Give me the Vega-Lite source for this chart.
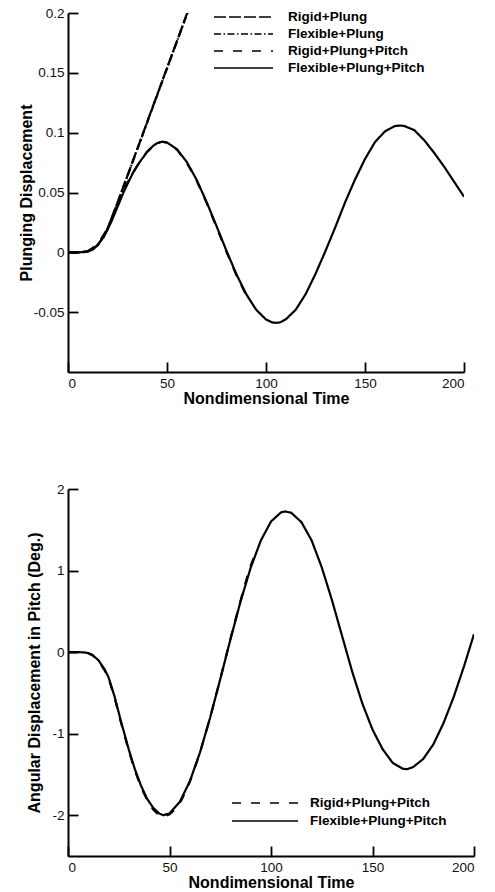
{
  "$schema": "https://vega.github.io/schema/vega-lite/v6.json",
  "padding": {"left": 18, "top": 3, "right": 5, "bottom": 5},
  "datasets": {
    "plunge": [
      {"case": "Flexible+Plung+Pitch", "t": 0, "v": 0},
      {"case": "Flexible+Plung+Pitch", "t": 5, "v": 0},
      {"case": "Flexible+Plung+Pitch", "t": 8, "v": 0.0002},
      {"case": "Flexible+Plung+Pitch", "t": 10, "v": 0.0008},
      {"case": "Flexible+Plung+Pitch", "t": 12, "v": 0.002},
      {"case": "Flexible+Plung+Pitch", "t": 15, "v": 0.006},
      {"case": "Flexible+Plung+Pitch", "t": 18, "v": 0.013},
      {"case": "Flexible+Plung+Pitch", "t": 20, "v": 0.019},
      {"case": "Flexible+Plung+Pitch", "t": 22, "v": 0.026},
      {"case": "Flexible+Plung+Pitch", "t": 25, "v": 0.038},
      {"case": "Flexible+Plung+Pitch", "t": 28, "v": 0.05},
      {"case": "Flexible+Plung+Pitch", "t": 30, "v": 0.057},
      {"case": "Flexible+Plung+Pitch", "t": 33, "v": 0.067},
      {"case": "Flexible+Plung+Pitch", "t": 36, "v": 0.075},
      {"case": "Flexible+Plung+Pitch", "t": 40, "v": 0.084},
      {"case": "Flexible+Plung+Pitch", "t": 43, "v": 0.089},
      {"case": "Flexible+Plung+Pitch", "t": 45, "v": 0.0912},
      {"case": "Flexible+Plung+Pitch", "t": 47.5, "v": 0.0925},
      {"case": "Flexible+Plung+Pitch", "t": 50, "v": 0.0918},
      {"case": "Flexible+Plung+Pitch", "t": 55, "v": 0.0862},
      {"case": "Flexible+Plung+Pitch", "t": 60, "v": 0.0755},
      {"case": "Flexible+Plung+Pitch", "t": 65, "v": 0.0605},
      {"case": "Flexible+Plung+Pitch", "t": 70, "v": 0.0421},
      {"case": "Flexible+Plung+Pitch", "t": 75, "v": 0.022},
      {"case": "Flexible+Plung+Pitch", "t": 80, "v": 0.0014},
      {"case": "Flexible+Plung+Pitch", "t": 85, "v": -0.0181},
      {"case": "Flexible+Plung+Pitch", "t": 90, "v": -0.0349},
      {"case": "Flexible+Plung+Pitch", "t": 95, "v": -0.0479},
      {"case": "Flexible+Plung+Pitch", "t": 100, "v": -0.0561},
      {"case": "Flexible+Plung+Pitch", "t": 103, "v": -0.0585},
      {"case": "Flexible+Plung+Pitch", "t": 105, "v": -0.0589},
      {"case": "Flexible+Plung+Pitch", "t": 107, "v": -0.0586},
      {"case": "Flexible+Plung+Pitch", "t": 110, "v": -0.056},
      {"case": "Flexible+Plung+Pitch", "t": 115, "v": -0.048},
      {"case": "Flexible+Plung+Pitch", "t": 120, "v": -0.035},
      {"case": "Flexible+Plung+Pitch", "t": 125, "v": -0.018},
      {"case": "Flexible+Plung+Pitch", "t": 130, "v": 0.001},
      {"case": "Flexible+Plung+Pitch", "t": 135, "v": 0.021},
      {"case": "Flexible+Plung+Pitch", "t": 140, "v": 0.042},
      {"case": "Flexible+Plung+Pitch", "t": 145, "v": 0.061},
      {"case": "Flexible+Plung+Pitch", "t": 150, "v": 0.078},
      {"case": "Flexible+Plung+Pitch", "t": 155, "v": 0.092},
      {"case": "Flexible+Plung+Pitch", "t": 160, "v": 0.101},
      {"case": "Flexible+Plung+Pitch", "t": 165, "v": 0.1055},
      {"case": "Flexible+Plung+Pitch", "t": 168, "v": 0.106},
      {"case": "Flexible+Plung+Pitch", "t": 170, "v": 0.1055},
      {"case": "Flexible+Plung+Pitch", "t": 175, "v": 0.102},
      {"case": "Flexible+Plung+Pitch", "t": 180, "v": 0.0935},
      {"case": "Flexible+Plung+Pitch", "t": 185, "v": 0.083},
      {"case": "Flexible+Plung+Pitch", "t": 190, "v": 0.0715},
      {"case": "Flexible+Plung+Pitch", "t": 195, "v": 0.059},
      {"case": "Flexible+Plung+Pitch", "t": 200, "v": 0.0465},

      {"case": "Rigid+Plung+Pitch", "t": 0, "v": 0},
      {"case": "Rigid+Plung+Pitch", "t": 5, "v": 0},
      {"case": "Rigid+Plung+Pitch", "t": 10, "v": 0.0009},
      {"case": "Rigid+Plung+Pitch", "t": 15, "v": 0.0065},
      {"case": "Rigid+Plung+Pitch", "t": 20, "v": 0.02},
      {"case": "Rigid+Plung+Pitch", "t": 25, "v": 0.039},
      {"case": "Rigid+Plung+Pitch", "t": 30, "v": 0.058},
      {"case": "Rigid+Plung+Pitch", "t": 35, "v": 0.0725},
      {"case": "Rigid+Plung+Pitch", "t": 40, "v": 0.0842},
      {"case": "Rigid+Plung+Pitch", "t": 45, "v": 0.0913},
      {"case": "Rigid+Plung+Pitch", "t": 47.5, "v": 0.0924},
      {"case": "Rigid+Plung+Pitch", "t": 50, "v": 0.0916},
      {"case": "Rigid+Plung+Pitch", "t": 55, "v": 0.0858},
      {"case": "Rigid+Plung+Pitch", "t": 60, "v": 0.0749},
      {"case": "Rigid+Plung+Pitch", "t": 65, "v": 0.0598},
      {"case": "Rigid+Plung+Pitch", "t": 70, "v": 0.0413},
      {"case": "Rigid+Plung+Pitch", "t": 75, "v": 0.0212},
      {"case": "Rigid+Plung+Pitch", "t": 80, "v": 0.0006},
      {"case": "Rigid+Plung+Pitch", "t": 85, "v": -0.0189},
      {"case": "Rigid+Plung+Pitch", "t": 90, "v": -0.0356},
      {"case": "Rigid+Plung+Pitch", "t": 92, "v": -0.041},

      {"case": "Rigid+Plung", "t": 0, "v": 0},
      {"case": "Rigid+Plung", "t": 5, "v": 0},
      {"case": "Rigid+Plung", "t": 10, "v": 0.0008},
      {"case": "Rigid+Plung", "t": 13, "v": 0.003},
      {"case": "Rigid+Plung", "t": 15, "v": 0.0062},
      {"case": "Rigid+Plung", "t": 18, "v": 0.013},
      {"case": "Rigid+Plung", "t": 20, "v": 0.02},
      {"case": "Rigid+Plung", "t": 22, "v": 0.0285},
      {"case": "Rigid+Plung", "t": 25, "v": 0.0415},
      {"case": "Rigid+Plung", "t": 30, "v": 0.064},
      {"case": "Rigid+Plung", "t": 35, "v": 0.0865},
      {"case": "Rigid+Plung", "t": 40, "v": 0.109},
      {"case": "Rigid+Plung", "t": 45, "v": 0.1315},
      {"case": "Rigid+Plung", "t": 50, "v": 0.154},
      {"case": "Rigid+Plung", "t": 55, "v": 0.1765},
      {"case": "Rigid+Plung", "t": 60, "v": 0.199},
      {"case": "Rigid+Plung", "t": 62, "v": 0.208},

      {"case": "Flexible+Plung", "t": 0, "v": 0},
      {"case": "Flexible+Plung", "t": 5, "v": 0},
      {"case": "Flexible+Plung", "t": 10, "v": 0.0008},
      {"case": "Flexible+Plung", "t": 13, "v": 0.003},
      {"case": "Flexible+Plung", "t": 15, "v": 0.0061},
      {"case": "Flexible+Plung", "t": 18, "v": 0.0129},
      {"case": "Flexible+Plung", "t": 20, "v": 0.0198},
      {"case": "Flexible+Plung", "t": 22, "v": 0.0282},
      {"case": "Flexible+Plung", "t": 25, "v": 0.0412},
      {"case": "Flexible+Plung", "t": 30, "v": 0.0636},
      {"case": "Flexible+Plung", "t": 35, "v": 0.0861},
      {"case": "Flexible+Plung", "t": 40, "v": 0.1086},
      {"case": "Flexible+Plung", "t": 45, "v": 0.1311},
      {"case": "Flexible+Plung", "t": 50, "v": 0.1536},
      {"case": "Flexible+Plung", "t": 55, "v": 0.1761},
      {"case": "Flexible+Plung", "t": 60, "v": 0.1986},
      {"case": "Flexible+Plung", "t": 62, "v": 0.2076}
    ],
    "pitch": [
      {"case": "Flexible+Plung+Pitch", "t": 0, "v": 0},
      {"case": "Flexible+Plung+Pitch", "t": 5, "v": 0},
      {"case": "Flexible+Plung+Pitch", "t": 8, "v": -0.004},
      {"case": "Flexible+Plung+Pitch", "t": 10, "v": -0.012},
      {"case": "Flexible+Plung+Pitch", "t": 12, "v": -0.035},
      {"case": "Flexible+Plung+Pitch", "t": 15, "v": -0.1},
      {"case": "Flexible+Plung+Pitch", "t": 18, "v": -0.21},
      {"case": "Flexible+Plung+Pitch", "t": 20, "v": -0.31},
      {"case": "Flexible+Plung+Pitch", "t": 23, "v": -0.55},
      {"case": "Flexible+Plung+Pitch", "t": 26, "v": -0.84},
      {"case": "Flexible+Plung+Pitch", "t": 30, "v": -1.2},
      {"case": "Flexible+Plung+Pitch", "t": 33, "v": -1.44},
      {"case": "Flexible+Plung+Pitch", "t": 36, "v": -1.64},
      {"case": "Flexible+Plung+Pitch", "t": 39, "v": -1.8},
      {"case": "Flexible+Plung+Pitch", "t": 42, "v": -1.91},
      {"case": "Flexible+Plung+Pitch", "t": 45, "v": -1.98},
      {"case": "Flexible+Plung+Pitch", "t": 47, "v": -2.0},
      {"case": "Flexible+Plung+Pitch", "t": 50, "v": -1.977},
      {"case": "Flexible+Plung+Pitch", "t": 55, "v": -1.839},
      {"case": "Flexible+Plung+Pitch", "t": 60, "v": -1.585},
      {"case": "Flexible+Plung+Pitch", "t": 65, "v": -1.232},
      {"case": "Flexible+Plung+Pitch", "t": 70, "v": -0.805},
      {"case": "Flexible+Plung+Pitch", "t": 75, "v": -0.332},
      {"case": "Flexible+Plung+Pitch", "t": 80, "v": 0.154},
      {"case": "Flexible+Plung+Pitch", "t": 85, "v": 0.62},
      {"case": "Flexible+Plung+Pitch", "t": 90, "v": 1.035},
      {"case": "Flexible+Plung+Pitch", "t": 95, "v": 1.369},
      {"case": "Flexible+Plung+Pitch", "t": 100, "v": 1.601},
      {"case": "Flexible+Plung+Pitch", "t": 105, "v": 1.715},
      {"case": "Flexible+Plung+Pitch", "t": 107, "v": 1.725},
      {"case": "Flexible+Plung+Pitch", "t": 110, "v": 1.708},
      {"case": "Flexible+Plung+Pitch", "t": 115, "v": 1.593},
      {"case": "Flexible+Plung+Pitch", "t": 120, "v": 1.37},
      {"case": "Flexible+Plung+Pitch", "t": 125, "v": 1.04},
      {"case": "Flexible+Plung+Pitch", "t": 130, "v": 0.64},
      {"case": "Flexible+Plung+Pitch", "t": 135, "v": 0.2},
      {"case": "Flexible+Plung+Pitch", "t": 140, "v": -0.24},
      {"case": "Flexible+Plung+Pitch", "t": 145, "v": -0.63},
      {"case": "Flexible+Plung+Pitch", "t": 150, "v": -0.95},
      {"case": "Flexible+Plung+Pitch", "t": 155, "v": -1.19},
      {"case": "Flexible+Plung+Pitch", "t": 160, "v": -1.36},
      {"case": "Flexible+Plung+Pitch", "t": 165, "v": -1.43},
      {"case": "Flexible+Plung+Pitch", "t": 167, "v": -1.436},
      {"case": "Flexible+Plung+Pitch", "t": 170, "v": -1.41},
      {"case": "Flexible+Plung+Pitch", "t": 175, "v": -1.31},
      {"case": "Flexible+Plung+Pitch", "t": 180, "v": -1.13},
      {"case": "Flexible+Plung+Pitch", "t": 185, "v": -0.87},
      {"case": "Flexible+Plung+Pitch", "t": 190, "v": -0.55},
      {"case": "Flexible+Plung+Pitch", "t": 195, "v": -0.18},
      {"case": "Flexible+Plung+Pitch", "t": 200, "v": 0.22},

      {"case": "Rigid+Plung+Pitch", "t": 0, "v": 0},
      {"case": "Rigid+Plung+Pitch", "t": 5, "v": 0},
      {"case": "Rigid+Plung+Pitch", "t": 8, "v": -0.005},
      {"case": "Rigid+Plung+Pitch", "t": 10, "v": -0.014},
      {"case": "Rigid+Plung+Pitch", "t": 12, "v": -0.038},
      {"case": "Rigid+Plung+Pitch", "t": 15, "v": -0.105},
      {"case": "Rigid+Plung+Pitch", "t": 18, "v": -0.22},
      {"case": "Rigid+Plung+Pitch", "t": 20, "v": -0.32},
      {"case": "Rigid+Plung+Pitch", "t": 23, "v": -0.565},
      {"case": "Rigid+Plung+Pitch", "t": 26, "v": -0.855},
      {"case": "Rigid+Plung+Pitch", "t": 30, "v": -1.215},
      {"case": "Rigid+Plung+Pitch", "t": 33, "v": -1.455},
      {"case": "Rigid+Plung+Pitch", "t": 36, "v": -1.655},
      {"case": "Rigid+Plung+Pitch", "t": 39, "v": -1.815},
      {"case": "Rigid+Plung+Pitch", "t": 42, "v": -1.93},
      {"case": "Rigid+Plung+Pitch", "t": 45, "v": -2.005},
      {"case": "Rigid+Plung+Pitch", "t": 47, "v": -2.02},
      {"case": "Rigid+Plung+Pitch", "t": 50, "v": -1.99},
      {"case": "Rigid+Plung+Pitch", "t": 53, "v": -1.92},
      {"case": "Rigid+Plung+Pitch", "t": 56, "v": -1.81},
      {"case": "Rigid+Plung+Pitch", "t": 60, "v": -1.59},
      {"case": "Rigid+Plung+Pitch", "t": 65, "v": -1.235},
      {"case": "Rigid+Plung+Pitch", "t": 70, "v": -0.805},
      {"case": "Rigid+Plung+Pitch", "t": 75, "v": -0.33},
      {"case": "Rigid+Plung+Pitch", "t": 80, "v": 0.16},
      {"case": "Rigid+Plung+Pitch", "t": 85, "v": 0.63},
      {"case": "Rigid+Plung+Pitch", "t": 88, "v": 0.9},
      {"case": "Rigid+Plung+Pitch", "t": 90, "v": 1.06},
      {"case": "Rigid+Plung+Pitch", "t": 92, "v": 1.19}
    ]
  },
  "vconcat": [
    {
      "width": 396,
      "height": 359,
      "data": {"name": "plunge"},
      "layer": [
        {
          "mark": {"type": "line", "clip": true, "strokeWidth": 2.2, "color": "black"},
          "encoding": {
            "x": {
              "field": "t", "type": "quantitative",
              "scale": {"domain": [0, 200], "nice": false, "zero": false},
              "axis": {"values": [0, 50, 100, 150, 200], "title": "Nondimensional Time", "titlePadding": 1, "ticks": false}
            },
            "y": {
              "field": "v", "type": "quantitative",
              "scale": {"domain": [-0.1, 0.2], "nice": false, "zero": false},
              "axis": {
                "values": [-0.05, 0, 0.05, 0.1, 0.15, 0.2],
                "title": "Plunging Displacement",
                "titlePadding": -1,
                "ticks": false,
                "labelExpr": "datum.value < 0 ? '-' + format(-datum.value, '~g') : format(datum.value, '~g')"
              }
            },
            "strokeDash": {
              "field": "case", "type": "nominal",
              "scale": {
                "domain": ["Rigid+Plung", "Flexible+Plung", "Rigid+Plung+Pitch", "Flexible+Plung+Pitch"],
                "range": [[12, 3], [7, 2.5, 1.5, 2.5], [9, 10], [1, 0]]
              },
              "legend": {"legendX": 145, "legendY": -3, "symbolSize": 3481, "labelOffset": 14, "rowPadding": 3}
            }
          }
        },
        {
          "mark": {"type": "line", "opacity": 0},
          "encoding": {
            "x": {
              "field": "t", "type": "quantitative",
              "scale": {"domain": [0, 200], "nice": false, "zero": false},
              "axis": {"orient": "top", "offset": -359, "values": [0, 50, 100, 150, 200], "labels": false, "domain": false, "ticks": true, "tickSize": 10, "title": null}
            },
            "y": {
              "field": "v", "type": "quantitative",
              "scale": {"domain": [-0.1, 0.2], "nice": false, "zero": false},
              "axis": {"orient": "right", "offset": -396, "values": [-0.05, 0, 0.05, 0.1, 0.15, 0.2], "labels": false, "domain": false, "ticks": true, "tickSize": 10, "title": null}
            }
          }
        }
      ],
      "resolve": {"axis": {"x": "independent", "y": "independent"}}
    },
    {
      "width": 406,
      "height": 367,
      "data": {"name": "pitch"},
      "layer": [
        {
          "mark": {"type": "line", "clip": true, "strokeWidth": 2.2, "color": "black"},
          "encoding": {
            "x": {
              "field": "t", "type": "quantitative",
              "scale": {"domain": [0, 200], "nice": false, "zero": false},
              "axis": {"values": [0, 50, 100, 150, 200], "title": "Nondimensional Time", "titlePadding": 1, "ticks": false}
            },
            "y": {
              "field": "v", "type": "quantitative",
              "scale": {"domain": [-2.5, 2], "nice": false, "zero": false},
              "axis": {
                "values": [-2, -1, 0, 1, 2],
                "title": "Angular Displacement in Pitch (Deg.)",
                "titlePadding": 9,
                "ticks": false,
                "labelExpr": "datum.value < 0 ? '-' + format(-datum.value, '~g') : format(datum.value, '~g')"
              }
            },
            "strokeDash": {
              "field": "case", "type": "nominal",
              "scale": {
                "domain": ["Rigid+Plung+Pitch", "Flexible+Plung+Pitch"],
                "range": [[9, 10], [1, 0]]
              },
              "legend": {"legendX": 163, "legendY": 307, "symbolSize": 4356, "labelOffset": 11, "rowPadding": 4}
            }
          }
        },
        {
          "mark": {"type": "line", "opacity": 0},
          "encoding": {
            "x": {
              "field": "t", "type": "quantitative",
              "scale": {"domain": [0, 200], "nice": false, "zero": false},
              "axis": {"orient": "top", "offset": -367, "values": [0, 50, 100, 150, 200], "labels": false, "domain": false, "ticks": true, "tickSize": 10, "title": null}
            },
            "y": {
              "field": "v", "type": "quantitative",
              "scale": {"domain": [-2.5, 2], "nice": false, "zero": false},
              "axis": {"orient": "right", "offset": -406, "values": [-2, -1, 0, 1, 2], "labels": false, "domain": false, "ticks": true, "tickSize": 10, "title": null}
            }
          }
        }
      ],
      "resolve": {"axis": {"x": "independent", "y": "independent"}}
    }
  ],
  "spacing": 75,
  "resolve": {
    "scale": {"strokeDash": "independent"},
    "legend": {"strokeDash": "independent"}
  },
  "config": {
    "font": "Liberation Sans",
    "background": "white",
    "view": {"stroke": null},
    "axis": {
      "grid": false,
      "domainColor": "black",
      "domainWidth": 2,
      "tickColor": "black",
      "tickWidth": 1.8,
      "labelPadding": 4,
      "labelFontSize": 13.5,
      "labelColor": "#111",
      "labelFont": "Liberation Sans",
      "titleFont": "Liberation Sans",
      "titleFontSize": 16,
      "titleFontWeight": "bold",
      "titleColor": "black"
    },
    "legend": {
      "orient": "none",
      "title": null,
      "symbolType": "stroke",
      "symbolStrokeColor": "black",
      "symbolStrokeWidth": 1.5,
      "clipHeight": 14,
      "labelFont": "Liberation Sans",
      "labelFontSize": 13.5,
      "labelFontWeight": "bold",
      "labelColor": "black",
      "labelLimit": 300
    }
  }
}
